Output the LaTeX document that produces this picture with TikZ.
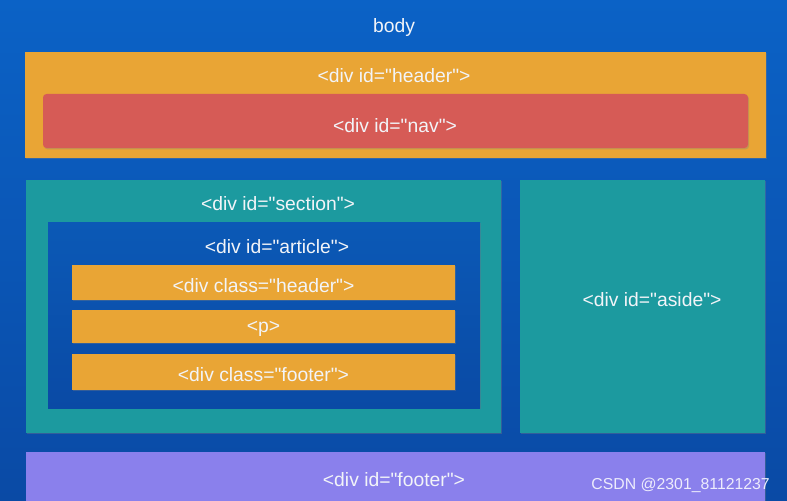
\documentclass[tikz,border=0pt]{standalone}
\usepackage{fontspec}
\setmainfont{Liberation Sans}[Ligatures=TeXOff]
\usetikzlibrary{positioning,fit,shadows}
\definecolor{bodytop}{HTML}{0B62C6}
\definecolor{bodybot}{HTML}{0A4AA5}
\definecolor{hdrorange}{HTML}{E9A535}
\definecolor{navred}{HTML}{D65B56}
\definecolor{secteal}{HTML}{1C9A9F}
\definecolor{artblue}{HTML}{0B59B6}
\definecolor{ftpurple}{HTML}{8A80EC}
\definecolor{txtwhite}{HTML}{F2F4F8}
\tikzset{
  box/.style={inner sep=0pt, draw=none,
    drop shadow={opacity=0.35, shadow xshift=0.6pt, shadow yshift=-0.8pt}},
  lbl/.style={text=txtwhite, font=\fontsize{11}{13}\selectfont, inner sep=1pt, yshift=-1.5pt},
}
\begin{document}
\begin{tikzpicture}[x=0.02cm, y=-0.02cm]
    \useasboundingbox (0,0) rectangle (787,500);
    \clip (0,0) rectangle (787,500);
    % body
    \shade[top color=bodytop, bottom color=bodybot] (0,0) rectangle (787,500);
    \node[lbl] (body) at (394,25) {body};
    % header + nav
    \node[box, fit={(25,52) (766,158)}, fill=hdrorange] (header) {};
    \node[lbl] (headertxt) at (394,73) {<div id="header">};
    \node[box, fit={(43,94) (748,148)}, fill=navred, rounded corners=2pt] (nav) {};
    \node[lbl] (navtxt) at (395,123) {<div id="nav">};
    % section
    \node[box, fit={(26,180) (501,433)}, fill=secteal] (section) {};
    \node[lbl] (sectiontxt) at (278,201) {<div id="section">};
    \node[box, fit={(48,222) (480,408)}, top color=artblue, bottom color=bodybot] (article) {};
    \node[lbl] (articletxt) at (277,244) {<div id="article">};
    \node[box, fit={(72,265) (455,300)}, fill=hdrorange] (artheader) {};
    \node[lbl] at (artheader.center) {<div class="header">};
    \node[box, fit={(72,310) (455,343)}, fill=hdrorange] (para) {};
    \node[lbl] at (para.center) {<p>};
    \node[box, fit={(72,354) (455,390)}, fill=hdrorange] (artfooter) {};
    \node[lbl] at (artfooter.center) {<div class="footer">};
    % aside
    \node[box, fit={(520,180) (765,433)}, fill=secteal] (aside) {};
    \node[lbl] at (652,297) {<div id="aside">};
    % footer
    \node[box, fit={(26,452) (765,520)}, fill=ftpurple] (footer) {};
    \node[lbl] (footertxt) at (394,477) {<div id="footer">};
    \node[text=white!85!ftpurple, font=\fontsize{9}{10}\selectfont, anchor=east] (mark) at (776,485) {CSDN @2301\_81121237};
\end{tikzpicture}
\end{document}
